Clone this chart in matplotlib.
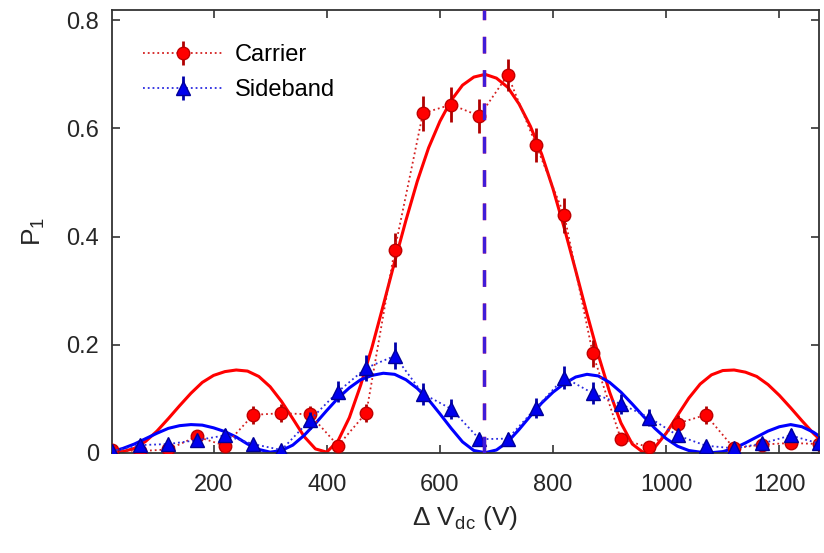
import numpy as np
import matplotlib
matplotlib.use('Agg')
import matplotlib.pyplot as plt

plt.rcParams['font.family'] = ['Liberation Sans', 'DejaVu Sans']
plt.rcParams['mathtext.fontset'] = 'custom'
plt.rcParams['mathtext.rm'] = 'Liberation Sans'
plt.rcParams['mathtext.it'] = 'Liberation Sans:italic'

# measured populations (every 50 V)
v_meas = [20, 70, 120, 170, 220, 270, 320, 370, 420, 470, 520, 570, 620,
          670, 720, 770, 820, 870, 920, 970, 1020, 1070, 1120, 1170, 1220, 1270]
carrier = [0.005, 0.003, 0.006, 0.030, 0.013, 0.070, 0.073, 0.071, 0.013,
           0.074, 0.375, 0.628, 0.644, 0.623, 0.699, 0.569, 0.439, 0.184,
           0.025, 0.010, 0.054, 0.070, 0.008, 0.015, 0.018, 0.016]
carrier_err = [0.005, 0.005, 0.006, 0.012, 0.008, 0.016, 0.017, 0.016, 0.008,
               0.017, 0.032, 0.032, 0.032, 0.032, 0.030, 0.032, 0.032, 0.025,
               0.010, 0.007, 0.015, 0.016, 0.006, 0.008, 0.009, 0.008]
sideband = [0.003, 0.014, 0.016, 0.023, 0.032, 0.016, 0.005, 0.060, 0.113,
            0.157, 0.179, 0.109, 0.081, 0.025, 0.026, 0.083, 0.139, 0.110,
            0.090, 0.065, 0.032, 0.013, 0.008, 0.017, 0.032, 0.017]
sideband_err = [0.004, 0.008, 0.008, 0.010, 0.012, 0.008, 0.005, 0.016, 0.020,
                0.024, 0.025, 0.020, 0.018, 0.010, 0.010, 0.018, 0.022, 0.020,
                0.018, 0.016, 0.012, 0.008, 0.006, 0.009, 0.012, 0.009]

# theory curves (every 20 V)
v_theory = [20, 40, 60, 80, 100, 120, 140, 160, 180, 200, 220, 240, 260, 280,
            300, 320, 340, 360, 380, 400, 420, 440, 460, 480, 500, 520, 540,
            560, 580, 600, 620, 640, 660, 680, 700, 720, 740, 760, 780, 800,
            820, 840, 860, 880, 900, 920, 940, 960, 980, 1000, 1020, 1040,
            1060, 1080, 1100, 1120, 1140, 1160, 1180, 1200, 1220, 1240, 1260,
            1270]
carrier_fit = [0.001, 0.002, 0.008, 0.021, 0.040, 0.063, 0.087, 0.110, 0.130,
               0.143, 0.150, 0.153, 0.151, 0.141, 0.122, 0.095, 0.063, 0.030,
               0.007, 0.001, 0.022, 0.065, 0.125, 0.195, 0.273, 0.353, 0.430,
               0.502, 0.564, 0.613, 0.652, 0.680, 0.695, 0.700, 0.693, 0.676,
               0.645, 0.604, 0.552, 0.488, 0.415, 0.337, 0.257, 0.181, 0.112,
               0.055, 0.016, 0.000, 0.010, 0.036, 0.069, 0.101, 0.127, 0.144,
               0.152, 0.153, 0.149, 0.141, 0.126, 0.106, 0.083, 0.059, 0.036,
               0.026]
sideband_fit = [0.002, 0.008, 0.016, 0.026, 0.036, 0.045, 0.050, 0.052, 0.051,
                0.046, 0.039, 0.029, 0.016, 0.006, 0.001, 0.004, 0.014, 0.032,
                0.054, 0.078, 0.101, 0.120, 0.135, 0.143, 0.147, 0.145, 0.135,
                0.119, 0.098, 0.072, 0.045, 0.020, 0.004, 0.000, 0.005, 0.020,
                0.043, 0.068, 0.092, 0.112, 0.128, 0.140, 0.145, 0.142, 0.130,
                0.112, 0.090, 0.067, 0.045, 0.026, 0.012, 0.004, 0.001, 0.000,
                0.002, 0.008, 0.018, 0.029, 0.040, 0.048, 0.052, 0.048, 0.038,
                0.031]

v_res = 678

fig = plt.figure(figsize=(8.24, 5.53), dpi=100)
ax = fig.add_axes([0.1356, 0.1814, 0.8583, 0.8014])

ax.plot(v_theory, carrier_fit, '-', color='#ff0000', lw=2.2, zorder=2)
ax.plot(v_theory, sideband_fit, '-', color='#0000ff', lw=2.2, zorder=2)

ax.errorbar(v_meas, carrier, yerr=carrier_err, fmt='o:', color='#d42020',
            mfc='#ff0000', mec='#c00000', ms=9, ecolor='#b00000',
            elinewidth=2, capsize=0, lw=1.3, label='Carrier', zorder=3)
ax.errorbar(v_meas, sideband, yerr=sideband_err, fmt='^:', color='#2a2ae0',
            mfc='#0000ee', mec='#000099', ms=9.5, ecolor='#0000aa',
            elinewidth=2, capsize=0, lw=1.3, label='Sideband', zorder=4)

ax.axvline(v_res, color='#ff0000', ls=(0, (5, 5)), lw=2.4, zorder=5)
ax.axvline(v_res, color='#2020ff', ls=(0, (5, 5)), lw=2.4, alpha=0.85, zorder=6)

ax.set_xlim(20, 1270)
ax.set_ylim(0, 0.82)
ax.set_xticks([200, 400, 600, 800, 1000, 1200])
ax.set_yticks([0, 0.2, 0.4, 0.6, 0.8])
ax.set_yticklabels(['0', '0.2', '0.4', '0.6', '0.8'])
ax.tick_params(direction='in', length=6, width=1.2, top=True, right=True,
               labelsize=17, colors='#333333', labelcolor='#262626')
ax.tick_params(axis='x', pad=15)
ax.tick_params(axis='y', pad=9)
for sp in ax.spines.values():
    sp.set_color('#333333')
    sp.set_linewidth(1.3)

ax.set_xlabel(r'Δ V$_{\rm dc}$ (V)', fontsize=19, color='#262626',
              labelpad=6)
ax.set_ylabel(r'P$_{\rm 1}$', fontsize=19, color='#262626', labelpad=14)

ax.legend(loc='upper left', frameon=False, fontsize=17, handlelength=3.4,
          handletextpad=0.5, borderpad=0, borderaxespad=0, labelspacing=0.55,
          bbox_to_anchor=(0.044, 0.922))

fig.savefig('out.png', dpi=100)
